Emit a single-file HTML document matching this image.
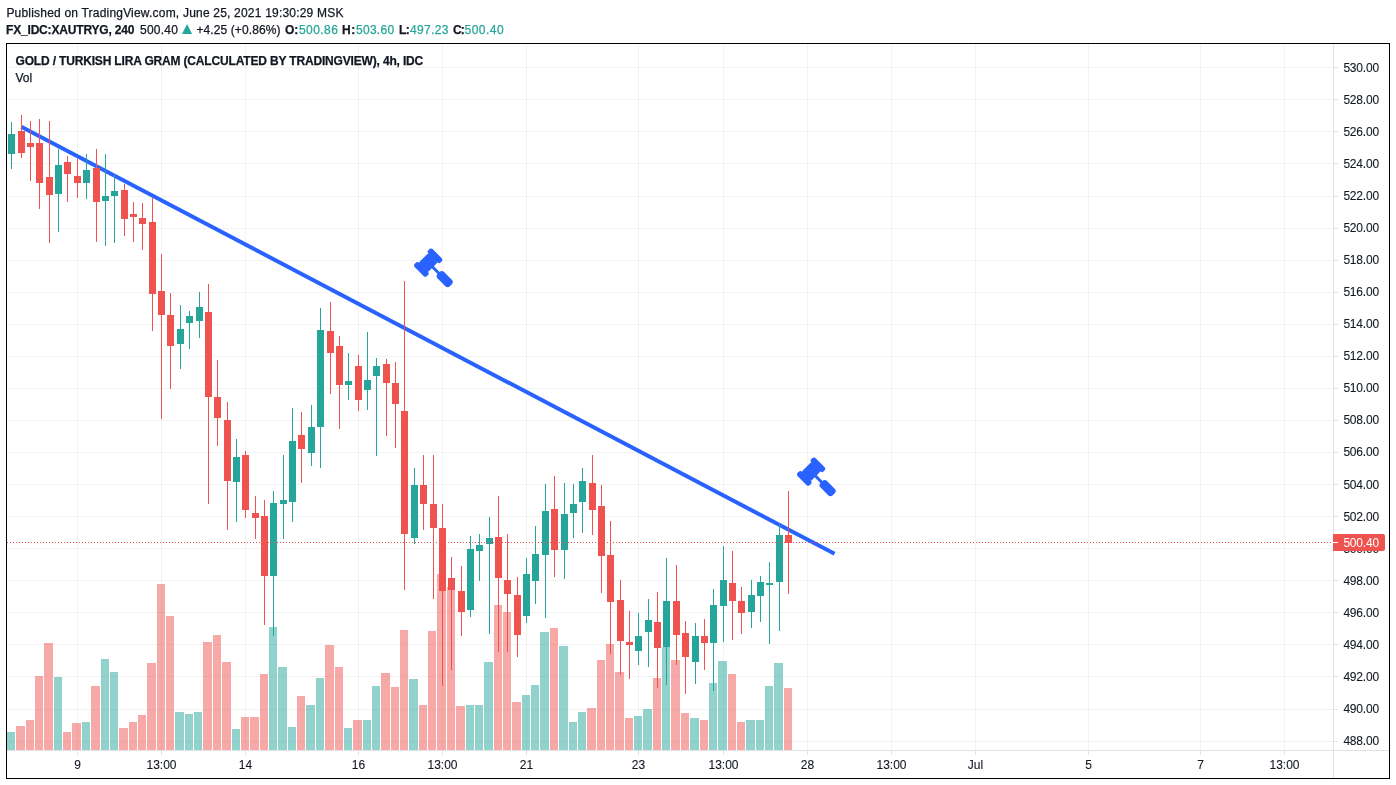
<!DOCTYPE html><html><head><meta charset="utf-8"><title>XAUTRYG chart</title><style>
html,body{margin:0;padding:0;background:#fff}body{width:1396px;height:785px;position:relative;overflow:hidden;font-family:"Liberation Sans",sans-serif;color:#131722}
.t{position:absolute;white-space:pre;font-size:12px;line-height:14px;-webkit-text-stroke:0.25px currentColor}
.b{font-weight:bold}.g{color:#26a69a}
#box{position:absolute;left:6px;top:43px;width:1384px;height:736px;box-sizing:border-box;border:1px solid #000}
.pl,.tl{-webkit-text-stroke:0.1px currentColor}.pl{position:absolute;left:1343.4px;font-size:12px;line-height:14px;white-space:pre;letter-spacing:-0.2px}
.tl{position:absolute;top:758px;width:60px;text-align:center;font-size:12px;line-height:14px;white-space:pre}
#cur{position:absolute;left:1333px;top:534px;width:52px;height:17px;background:#ef5350;border-radius:0 2px 2px 0;color:#fff;font-size:12px;line-height:17px}
#cur span{position:absolute;left:10.4px;top:1px;letter-spacing:-0.2px}
#cur i{position:absolute;left:0;top:8px;width:5px;height:1px;background:#fff}
</style></head><body>
<svg width="1396" height="785" viewBox="0 0 1396 785" style="position:absolute;left:0;top:0">
<g shape-rendering="crispEdges">
<rect x="77" y="44" width="1" height="706" fill="rgba(42,46,57,0.06)"/>
<rect x="161" y="44" width="1" height="706" fill="rgba(42,46,57,0.06)"/>
<rect x="245" y="44" width="1" height="706" fill="rgba(42,46,57,0.06)"/>
<rect x="358" y="44" width="1" height="706" fill="rgba(42,46,57,0.06)"/>
<rect x="442" y="44" width="1" height="706" fill="rgba(42,46,57,0.06)"/>
<rect x="526" y="44" width="1" height="706" fill="rgba(42,46,57,0.06)"/>
<rect x="638" y="44" width="1" height="706" fill="rgba(42,46,57,0.06)"/>
<rect x="723" y="44" width="1" height="706" fill="rgba(42,46,57,0.06)"/>
<rect x="807" y="44" width="1" height="706" fill="rgba(42,46,57,0.06)"/>
<rect x="891" y="44" width="1" height="706" fill="rgba(42,46,57,0.06)"/>
<rect x="975" y="44" width="1" height="706" fill="rgba(42,46,57,0.06)"/>
<rect x="1088" y="44" width="1" height="706" fill="rgba(42,46,57,0.06)"/>
<rect x="1200" y="44" width="1" height="706" fill="rgba(42,46,57,0.06)"/>
<rect x="1284" y="44" width="1" height="706" fill="rgba(42,46,57,0.06)"/>
<rect x="7" y="67" width="1326" height="1" fill="rgba(42,46,57,0.06)"/>
<rect x="7" y="99" width="1326" height="1" fill="rgba(42,46,57,0.06)"/>
<rect x="7" y="131" width="1326" height="1" fill="rgba(42,46,57,0.06)"/>
<rect x="7" y="163" width="1326" height="1" fill="rgba(42,46,57,0.06)"/>
<rect x="7" y="196" width="1326" height="1" fill="rgba(42,46,57,0.06)"/>
<rect x="7" y="228" width="1326" height="1" fill="rgba(42,46,57,0.06)"/>
<rect x="7" y="260" width="1326" height="1" fill="rgba(42,46,57,0.06)"/>
<rect x="7" y="292" width="1326" height="1" fill="rgba(42,46,57,0.06)"/>
<rect x="7" y="324" width="1326" height="1" fill="rgba(42,46,57,0.06)"/>
<rect x="7" y="356" width="1326" height="1" fill="rgba(42,46,57,0.06)"/>
<rect x="7" y="388" width="1326" height="1" fill="rgba(42,46,57,0.06)"/>
<rect x="7" y="420" width="1326" height="1" fill="rgba(42,46,57,0.06)"/>
<rect x="7" y="452" width="1326" height="1" fill="rgba(42,46,57,0.06)"/>
<rect x="7" y="484" width="1326" height="1" fill="rgba(42,46,57,0.06)"/>
<rect x="7" y="516" width="1326" height="1" fill="rgba(42,46,57,0.06)"/>
<rect x="7" y="548" width="1326" height="1" fill="rgba(42,46,57,0.06)"/>
<rect x="7" y="580" width="1326" height="1" fill="rgba(42,46,57,0.06)"/>
<rect x="7" y="612" width="1326" height="1" fill="rgba(42,46,57,0.06)"/>
<rect x="7" y="644" width="1326" height="1" fill="rgba(42,46,57,0.06)"/>
<rect x="7" y="676" width="1326" height="1" fill="rgba(42,46,57,0.06)"/>
<rect x="7" y="709" width="1326" height="1" fill="rgba(42,46,57,0.06)"/>
<rect x="7" y="741" width="1326" height="1" fill="rgba(42,46,57,0.06)"/>
<rect x="7" y="732" width="8" height="18" fill="rgba(38,166,154,0.5)"/>
<rect x="16" y="726" width="9" height="24" fill="rgba(239,83,80,0.5)"/>
<rect x="26" y="720" width="8" height="30" fill="rgba(239,83,80,0.5)"/>
<rect x="35" y="676" width="8" height="74" fill="rgba(239,83,80,0.5)"/>
<rect x="44" y="643" width="9" height="107" fill="rgba(239,83,80,0.5)"/>
<rect x="54" y="677" width="8" height="73" fill="rgba(38,166,154,0.5)"/>
<rect x="63" y="732" width="8" height="18" fill="rgba(239,83,80,0.5)"/>
<rect x="72" y="723" width="9" height="27" fill="rgba(239,83,80,0.5)"/>
<rect x="82" y="722" width="8" height="28" fill="rgba(38,166,154,0.5)"/>
<rect x="91" y="686" width="9" height="64" fill="rgba(239,83,80,0.5)"/>
<rect x="101" y="659" width="8" height="91" fill="rgba(38,166,154,0.5)"/>
<rect x="110" y="672" width="8" height="78" fill="rgba(38,166,154,0.5)"/>
<rect x="119" y="728" width="9" height="22" fill="rgba(239,83,80,0.5)"/>
<rect x="129" y="722" width="8" height="28" fill="rgba(239,83,80,0.5)"/>
<rect x="138" y="715" width="8" height="35" fill="rgba(239,83,80,0.5)"/>
<rect x="147" y="663" width="9" height="87" fill="rgba(239,83,80,0.5)"/>
<rect x="157" y="584" width="8" height="166" fill="rgba(239,83,80,0.5)"/>
<rect x="166" y="616" width="8" height="134" fill="rgba(239,83,80,0.5)"/>
<rect x="175" y="712" width="9" height="38" fill="rgba(38,166,154,0.5)"/>
<rect x="185" y="714" width="8" height="36" fill="rgba(38,166,154,0.5)"/>
<rect x="194" y="712" width="8" height="38" fill="rgba(38,166,154,0.5)"/>
<rect x="203" y="642" width="9" height="108" fill="rgba(239,83,80,0.5)"/>
<rect x="213" y="635" width="8" height="115" fill="rgba(239,83,80,0.5)"/>
<rect x="222" y="662" width="9" height="88" fill="rgba(239,83,80,0.5)"/>
<rect x="232" y="729" width="8" height="21" fill="rgba(38,166,154,0.5)"/>
<rect x="241" y="717" width="8" height="33" fill="rgba(239,83,80,0.5)"/>
<rect x="250" y="717" width="9" height="33" fill="rgba(239,83,80,0.5)"/>
<rect x="260" y="674" width="8" height="76" fill="rgba(239,83,80,0.5)"/>
<rect x="269" y="627" width="8" height="123" fill="rgba(38,166,154,0.5)"/>
<rect x="278" y="667" width="9" height="83" fill="rgba(38,166,154,0.5)"/>
<rect x="288" y="727" width="8" height="23" fill="rgba(38,166,154,0.5)"/>
<rect x="297" y="696" width="8" height="54" fill="rgba(239,83,80,0.5)"/>
<rect x="306" y="705" width="9" height="45" fill="rgba(38,166,154,0.5)"/>
<rect x="316" y="678" width="8" height="72" fill="rgba(38,166,154,0.5)"/>
<rect x="325" y="645" width="9" height="105" fill="rgba(239,83,80,0.5)"/>
<rect x="335" y="667" width="8" height="83" fill="rgba(239,83,80,0.5)"/>
<rect x="344" y="728" width="8" height="22" fill="rgba(38,166,154,0.5)"/>
<rect x="353" y="720" width="9" height="30" fill="rgba(239,83,80,0.5)"/>
<rect x="363" y="720" width="8" height="30" fill="rgba(38,166,154,0.5)"/>
<rect x="372" y="686" width="8" height="64" fill="rgba(38,166,154,0.5)"/>
<rect x="381" y="673" width="9" height="77" fill="rgba(239,83,80,0.5)"/>
<rect x="391" y="687" width="8" height="63" fill="rgba(239,83,80,0.5)"/>
<rect x="400" y="630" width="8" height="120" fill="rgba(239,83,80,0.5)"/>
<rect x="409" y="679" width="9" height="71" fill="rgba(38,166,154,0.5)"/>
<rect x="419" y="705" width="8" height="45" fill="rgba(239,83,80,0.5)"/>
<rect x="428" y="631" width="8" height="119" fill="rgba(239,83,80,0.5)"/>
<rect x="437" y="574" width="9" height="176" fill="rgba(239,83,80,0.5)"/>
<rect x="447" y="587" width="8" height="163" fill="rgba(239,83,80,0.5)"/>
<rect x="456" y="706" width="9" height="44" fill="rgba(239,83,80,0.5)"/>
<rect x="466" y="705" width="8" height="45" fill="rgba(38,166,154,0.5)"/>
<rect x="475" y="705" width="8" height="45" fill="rgba(38,166,154,0.5)"/>
<rect x="484" y="662" width="9" height="88" fill="rgba(38,166,154,0.5)"/>
<rect x="494" y="605" width="8" height="145" fill="rgba(239,83,80,0.5)"/>
<rect x="503" y="612" width="8" height="138" fill="rgba(239,83,80,0.5)"/>
<rect x="512" y="702" width="9" height="48" fill="rgba(239,83,80,0.5)"/>
<rect x="522" y="695" width="8" height="55" fill="rgba(38,166,154,0.5)"/>
<rect x="531" y="685" width="8" height="65" fill="rgba(38,166,154,0.5)"/>
<rect x="540" y="632" width="9" height="118" fill="rgba(38,166,154,0.5)"/>
<rect x="550" y="628" width="8" height="122" fill="rgba(239,83,80,0.5)"/>
<rect x="559" y="646" width="9" height="104" fill="rgba(38,166,154,0.5)"/>
<rect x="569" y="722" width="8" height="28" fill="rgba(38,166,154,0.5)"/>
<rect x="578" y="712" width="8" height="38" fill="rgba(38,166,154,0.5)"/>
<rect x="587" y="708" width="9" height="42" fill="rgba(239,83,80,0.5)"/>
<rect x="597" y="660" width="8" height="90" fill="rgba(239,83,80,0.5)"/>
<rect x="606" y="644" width="8" height="106" fill="rgba(239,83,80,0.5)"/>
<rect x="615" y="672" width="9" height="78" fill="rgba(239,83,80,0.5)"/>
<rect x="625" y="718" width="8" height="32" fill="rgba(239,83,80,0.5)"/>
<rect x="634" y="716" width="8" height="34" fill="rgba(38,166,154,0.5)"/>
<rect x="643" y="709" width="9" height="41" fill="rgba(38,166,154,0.5)"/>
<rect x="653" y="678" width="8" height="72" fill="rgba(239,83,80,0.5)"/>
<rect x="662" y="647" width="8" height="103" fill="rgba(38,166,154,0.5)"/>
<rect x="671" y="660" width="9" height="90" fill="rgba(239,83,80,0.5)"/>
<rect x="681" y="713" width="8" height="37" fill="rgba(239,83,80,0.5)"/>
<rect x="690" y="718" width="9" height="32" fill="rgba(38,166,154,0.5)"/>
<rect x="700" y="720" width="8" height="30" fill="rgba(239,83,80,0.5)"/>
<rect x="709" y="683" width="8" height="67" fill="rgba(38,166,154,0.5)"/>
<rect x="718" y="661" width="9" height="89" fill="rgba(38,166,154,0.5)"/>
<rect x="728" y="674" width="8" height="76" fill="rgba(239,83,80,0.5)"/>
<rect x="737" y="722" width="8" height="28" fill="rgba(239,83,80,0.5)"/>
<rect x="746" y="720" width="9" height="30" fill="rgba(38,166,154,0.5)"/>
<rect x="756" y="720" width="8" height="30" fill="rgba(38,166,154,0.5)"/>
<rect x="765" y="686" width="8" height="64" fill="rgba(38,166,154,0.5)"/>
<rect x="774" y="663" width="9" height="87" fill="rgba(38,166,154,0.5)"/>
<rect x="784" y="688" width="8" height="62" fill="rgba(239,83,80,0.5)"/>
</g>
<line x1="21.3" y1="126.8" x2="834.6" y2="553.85" stroke="#2962ff" stroke-width="4"/>
<g shape-rendering="crispEdges">
<rect x="11" y="122" width="1" height="47" fill="#26a69a"/>
<rect x="8" y="134" width="7" height="20" fill="#26a69a"/>
<rect x="21" y="115" width="1" height="43" fill="#ef5350"/>
<rect x="18" y="131" width="7" height="22" fill="#ef5350"/>
<rect x="30" y="121" width="1" height="60" fill="#ef5350"/>
<rect x="27" y="143" width="7" height="4" fill="#ef5350"/>
<rect x="39" y="119" width="1" height="90" fill="#ef5350"/>
<rect x="36" y="143" width="7" height="40" fill="#ef5350"/>
<rect x="49" y="121" width="1" height="122" fill="#ef5350"/>
<rect x="46" y="177" width="7" height="18" fill="#ef5350"/>
<rect x="58" y="149" width="1" height="83" fill="#26a69a"/>
<rect x="55" y="165" width="7" height="29" fill="#26a69a"/>
<rect x="67" y="156" width="1" height="46" fill="#ef5350"/>
<rect x="64" y="162" width="7" height="12" fill="#ef5350"/>
<rect x="77" y="159" width="1" height="39" fill="#ef5350"/>
<rect x="74" y="176" width="7" height="7" fill="#ef5350"/>
<rect x="86" y="154" width="1" height="45" fill="#26a69a"/>
<rect x="83" y="170" width="7" height="13" fill="#26a69a"/>
<rect x="96" y="149" width="1" height="93" fill="#ef5350"/>
<rect x="93" y="168" width="7" height="34" fill="#ef5350"/>
<rect x="105" y="154" width="1" height="92" fill="#26a69a"/>
<rect x="102" y="196" width="7" height="5" fill="#26a69a"/>
<rect x="114" y="174" width="1" height="69" fill="#26a69a"/>
<rect x="111" y="191" width="7" height="5" fill="#26a69a"/>
<rect x="124" y="184" width="1" height="52" fill="#ef5350"/>
<rect x="121" y="190" width="7" height="29" fill="#ef5350"/>
<rect x="133" y="202" width="1" height="40" fill="#ef5350"/>
<rect x="130" y="214" width="7" height="3" fill="#ef5350"/>
<rect x="142" y="203" width="1" height="47" fill="#ef5350"/>
<rect x="139" y="218" width="7" height="6" fill="#ef5350"/>
<rect x="152" y="197" width="1" height="134" fill="#ef5350"/>
<rect x="149" y="222" width="7" height="72" fill="#ef5350"/>
<rect x="161" y="254" width="1" height="165" fill="#ef5350"/>
<rect x="158" y="291" width="7" height="24" fill="#ef5350"/>
<rect x="170" y="293" width="1" height="96" fill="#ef5350"/>
<rect x="167" y="315" width="7" height="31" fill="#ef5350"/>
<rect x="180" y="305" width="1" height="64" fill="#26a69a"/>
<rect x="177" y="329" width="7" height="15" fill="#26a69a"/>
<rect x="189" y="311" width="1" height="38" fill="#26a69a"/>
<rect x="186" y="316" width="7" height="7" fill="#26a69a"/>
<rect x="199" y="292" width="1" height="46" fill="#26a69a"/>
<rect x="196" y="307" width="7" height="14" fill="#26a69a"/>
<rect x="208" y="284" width="1" height="220" fill="#ef5350"/>
<rect x="205" y="312" width="7" height="85" fill="#ef5350"/>
<rect x="217" y="360" width="1" height="86" fill="#ef5350"/>
<rect x="214" y="397" width="7" height="21" fill="#ef5350"/>
<rect x="227" y="402" width="1" height="128" fill="#ef5350"/>
<rect x="224" y="420" width="7" height="61" fill="#ef5350"/>
<rect x="236" y="439" width="1" height="83" fill="#26a69a"/>
<rect x="233" y="457" width="7" height="25" fill="#26a69a"/>
<rect x="245" y="451" width="1" height="67" fill="#ef5350"/>
<rect x="242" y="455" width="7" height="55" fill="#ef5350"/>
<rect x="255" y="496" width="1" height="43" fill="#ef5350"/>
<rect x="252" y="513" width="7" height="5" fill="#ef5350"/>
<rect x="264" y="500" width="1" height="125" fill="#ef5350"/>
<rect x="261" y="516" width="7" height="60" fill="#ef5350"/>
<rect x="273" y="491" width="1" height="145" fill="#26a69a"/>
<rect x="270" y="503" width="7" height="73" fill="#26a69a"/>
<rect x="283" y="455" width="1" height="84" fill="#26a69a"/>
<rect x="280" y="500" width="7" height="4" fill="#26a69a"/>
<rect x="292" y="408" width="1" height="114" fill="#26a69a"/>
<rect x="289" y="441" width="7" height="61" fill="#26a69a"/>
<rect x="301" y="412" width="1" height="71" fill="#ef5350"/>
<rect x="298" y="435" width="7" height="14" fill="#ef5350"/>
<rect x="311" y="405" width="1" height="61" fill="#26a69a"/>
<rect x="308" y="427" width="7" height="26" fill="#26a69a"/>
<rect x="320" y="308" width="1" height="160" fill="#26a69a"/>
<rect x="317" y="330" width="7" height="97" fill="#26a69a"/>
<rect x="330" y="302" width="1" height="92" fill="#ef5350"/>
<rect x="327" y="331" width="7" height="22" fill="#ef5350"/>
<rect x="339" y="336" width="1" height="93" fill="#ef5350"/>
<rect x="336" y="346" width="7" height="39" fill="#ef5350"/>
<rect x="348" y="353" width="1" height="47" fill="#26a69a"/>
<rect x="345" y="381" width="7" height="4" fill="#26a69a"/>
<rect x="358" y="355" width="1" height="56" fill="#ef5350"/>
<rect x="355" y="366" width="7" height="34" fill="#ef5350"/>
<rect x="367" y="332" width="1" height="78" fill="#26a69a"/>
<rect x="364" y="380" width="7" height="10" fill="#26a69a"/>
<rect x="376" y="358" width="1" height="98" fill="#26a69a"/>
<rect x="373" y="366" width="7" height="10" fill="#26a69a"/>
<rect x="386" y="359" width="1" height="77" fill="#ef5350"/>
<rect x="383" y="364" width="7" height="19" fill="#ef5350"/>
<rect x="395" y="362" width="1" height="86" fill="#ef5350"/>
<rect x="392" y="383" width="7" height="21" fill="#ef5350"/>
<rect x="404" y="281" width="1" height="309" fill="#ef5350"/>
<rect x="401" y="411" width="7" height="123" fill="#ef5350"/>
<rect x="414" y="468" width="1" height="76" fill="#26a69a"/>
<rect x="411" y="485" width="7" height="53" fill="#26a69a"/>
<rect x="423" y="455" width="1" height="75" fill="#ef5350"/>
<rect x="420" y="485" width="7" height="19" fill="#ef5350"/>
<rect x="433" y="455" width="1" height="144" fill="#ef5350"/>
<rect x="430" y="504" width="7" height="24" fill="#ef5350"/>
<rect x="442" y="504" width="1" height="182" fill="#ef5350"/>
<rect x="439" y="528" width="7" height="63" fill="#ef5350"/>
<rect x="451" y="557" width="1" height="113" fill="#ef5350"/>
<rect x="448" y="578" width="7" height="12" fill="#ef5350"/>
<rect x="461" y="566" width="1" height="70" fill="#ef5350"/>
<rect x="458" y="591" width="7" height="21" fill="#ef5350"/>
<rect x="470" y="536" width="1" height="81" fill="#26a69a"/>
<rect x="467" y="549" width="7" height="61" fill="#26a69a"/>
<rect x="479" y="534" width="1" height="47" fill="#26a69a"/>
<rect x="476" y="545" width="7" height="6" fill="#26a69a"/>
<rect x="489" y="517" width="1" height="117" fill="#26a69a"/>
<rect x="486" y="538" width="7" height="6" fill="#26a69a"/>
<rect x="498" y="496" width="1" height="156" fill="#ef5350"/>
<rect x="495" y="537" width="7" height="41" fill="#ef5350"/>
<rect x="507" y="534" width="1" height="118" fill="#ef5350"/>
<rect x="504" y="580" width="7" height="14" fill="#ef5350"/>
<rect x="517" y="577" width="1" height="80" fill="#ef5350"/>
<rect x="514" y="595" width="7" height="40" fill="#ef5350"/>
<rect x="526" y="558" width="1" height="65" fill="#26a69a"/>
<rect x="523" y="574" width="7" height="42" fill="#26a69a"/>
<rect x="535" y="526" width="1" height="78" fill="#26a69a"/>
<rect x="532" y="554" width="7" height="27" fill="#26a69a"/>
<rect x="545" y="484" width="1" height="134" fill="#26a69a"/>
<rect x="542" y="511" width="7" height="44" fill="#26a69a"/>
<rect x="554" y="476" width="1" height="101" fill="#ef5350"/>
<rect x="551" y="509" width="7" height="41" fill="#ef5350"/>
<rect x="564" y="483" width="1" height="96" fill="#26a69a"/>
<rect x="561" y="514" width="7" height="36" fill="#26a69a"/>
<rect x="573" y="484" width="1" height="54" fill="#26a69a"/>
<rect x="570" y="504" width="7" height="9" fill="#26a69a"/>
<rect x="582" y="468" width="1" height="65" fill="#26a69a"/>
<rect x="579" y="481" width="7" height="21" fill="#26a69a"/>
<rect x="592" y="455" width="1" height="80" fill="#ef5350"/>
<rect x="589" y="483" width="7" height="27" fill="#ef5350"/>
<rect x="601" y="485" width="1" height="108" fill="#ef5350"/>
<rect x="598" y="506" width="7" height="50" fill="#ef5350"/>
<rect x="610" y="521" width="1" height="133" fill="#ef5350"/>
<rect x="607" y="555" width="7" height="47" fill="#ef5350"/>
<rect x="620" y="580" width="1" height="95" fill="#ef5350"/>
<rect x="617" y="600" width="7" height="41" fill="#ef5350"/>
<rect x="629" y="611" width="1" height="68" fill="#ef5350"/>
<rect x="626" y="642" width="7" height="3" fill="#ef5350"/>
<rect x="638" y="613" width="1" height="52" fill="#26a69a"/>
<rect x="635" y="636" width="7" height="15" fill="#26a69a"/>
<rect x="648" y="599" width="1" height="68" fill="#26a69a"/>
<rect x="645" y="620" width="7" height="12" fill="#26a69a"/>
<rect x="657" y="592" width="1" height="96" fill="#ef5350"/>
<rect x="654" y="622" width="7" height="26" fill="#ef5350"/>
<rect x="666" y="558" width="1" height="127" fill="#26a69a"/>
<rect x="663" y="601" width="7" height="46" fill="#26a69a"/>
<rect x="676" y="565" width="1" height="100" fill="#ef5350"/>
<rect x="673" y="601" width="7" height="34" fill="#ef5350"/>
<rect x="685" y="621" width="1" height="73" fill="#ef5350"/>
<rect x="682" y="633" width="7" height="24" fill="#ef5350"/>
<rect x="695" y="623" width="1" height="61" fill="#26a69a"/>
<rect x="692" y="636" width="7" height="26" fill="#26a69a"/>
<rect x="704" y="619" width="1" height="51" fill="#ef5350"/>
<rect x="701" y="636" width="7" height="7" fill="#ef5350"/>
<rect x="713" y="589" width="1" height="102" fill="#26a69a"/>
<rect x="710" y="605" width="7" height="38" fill="#26a69a"/>
<rect x="723" y="546" width="1" height="96" fill="#26a69a"/>
<rect x="720" y="580" width="7" height="26" fill="#26a69a"/>
<rect x="732" y="551" width="1" height="89" fill="#ef5350"/>
<rect x="729" y="583" width="7" height="18" fill="#ef5350"/>
<rect x="741" y="587" width="1" height="47" fill="#ef5350"/>
<rect x="738" y="601" width="7" height="12" fill="#ef5350"/>
<rect x="751" y="580" width="1" height="48" fill="#26a69a"/>
<rect x="748" y="595" width="7" height="17" fill="#26a69a"/>
<rect x="760" y="576" width="1" height="46" fill="#26a69a"/>
<rect x="757" y="582" width="7" height="14" fill="#26a69a"/>
<rect x="769" y="562" width="1" height="82" fill="#26a69a"/>
<rect x="766" y="583" width="7" height="2" fill="#26a69a"/>
<rect x="779" y="524" width="1" height="107" fill="#26a69a"/>
<rect x="776" y="535" width="7" height="47" fill="#26a69a"/>
<rect x="788" y="491" width="1" height="103" fill="#ef5350"/>
<rect x="785" y="535" width="7" height="8" fill="#ef5350"/>
<path d="M7 542h1v1h-1zM10 542h1v1h-1zM13 542h1v1h-1zM16 542h1v1h-1zM19 542h1v1h-1zM22 542h1v1h-1zM25 542h1v1h-1zM28 542h1v1h-1zM31 542h1v1h-1zM34 542h1v1h-1zM37 542h1v1h-1zM40 542h1v1h-1zM43 542h1v1h-1zM46 542h1v1h-1zM49 542h1v1h-1zM52 542h1v1h-1zM55 542h1v1h-1zM58 542h1v1h-1zM61 542h1v1h-1zM64 542h1v1h-1zM67 542h1v1h-1zM70 542h1v1h-1zM73 542h1v1h-1zM76 542h1v1h-1zM79 542h1v1h-1zM82 542h1v1h-1zM85 542h1v1h-1zM88 542h1v1h-1zM91 542h1v1h-1zM94 542h1v1h-1zM97 542h1v1h-1zM100 542h1v1h-1zM103 542h1v1h-1zM106 542h1v1h-1zM109 542h1v1h-1zM112 542h1v1h-1zM115 542h1v1h-1zM118 542h1v1h-1zM121 542h1v1h-1zM124 542h1v1h-1zM127 542h1v1h-1zM130 542h1v1h-1zM133 542h1v1h-1zM136 542h1v1h-1zM139 542h1v1h-1zM142 542h1v1h-1zM145 542h1v1h-1zM148 542h1v1h-1zM151 542h1v1h-1zM154 542h1v1h-1zM157 542h1v1h-1zM160 542h1v1h-1zM163 542h1v1h-1zM166 542h1v1h-1zM169 542h1v1h-1zM172 542h1v1h-1zM175 542h1v1h-1zM178 542h1v1h-1zM181 542h1v1h-1zM184 542h1v1h-1zM187 542h1v1h-1zM190 542h1v1h-1zM193 542h1v1h-1zM196 542h1v1h-1zM199 542h1v1h-1zM202 542h1v1h-1zM205 542h1v1h-1zM208 542h1v1h-1zM211 542h1v1h-1zM214 542h1v1h-1zM217 542h1v1h-1zM220 542h1v1h-1zM223 542h1v1h-1zM226 542h1v1h-1zM229 542h1v1h-1zM232 542h1v1h-1zM235 542h1v1h-1zM238 542h1v1h-1zM241 542h1v1h-1zM244 542h1v1h-1zM247 542h1v1h-1zM250 542h1v1h-1zM253 542h1v1h-1zM256 542h1v1h-1zM259 542h1v1h-1zM262 542h1v1h-1zM265 542h1v1h-1zM268 542h1v1h-1zM271 542h1v1h-1zM274 542h1v1h-1zM277 542h1v1h-1zM280 542h1v1h-1zM283 542h1v1h-1zM286 542h1v1h-1zM289 542h1v1h-1zM292 542h1v1h-1zM295 542h1v1h-1zM298 542h1v1h-1zM301 542h1v1h-1zM304 542h1v1h-1zM307 542h1v1h-1zM310 542h1v1h-1zM313 542h1v1h-1zM316 542h1v1h-1zM319 542h1v1h-1zM322 542h1v1h-1zM325 542h1v1h-1zM328 542h1v1h-1zM331 542h1v1h-1zM334 542h1v1h-1zM337 542h1v1h-1zM340 542h1v1h-1zM343 542h1v1h-1zM346 542h1v1h-1zM349 542h1v1h-1zM352 542h1v1h-1zM355 542h1v1h-1zM358 542h1v1h-1zM361 542h1v1h-1zM364 542h1v1h-1zM367 542h1v1h-1zM370 542h1v1h-1zM373 542h1v1h-1zM376 542h1v1h-1zM379 542h1v1h-1zM382 542h1v1h-1zM385 542h1v1h-1zM388 542h1v1h-1zM391 542h1v1h-1zM394 542h1v1h-1zM397 542h1v1h-1zM400 542h1v1h-1zM403 542h1v1h-1zM406 542h1v1h-1zM409 542h1v1h-1zM412 542h1v1h-1zM415 542h1v1h-1zM418 542h1v1h-1zM421 542h1v1h-1zM424 542h1v1h-1zM427 542h1v1h-1zM430 542h1v1h-1zM433 542h1v1h-1zM436 542h1v1h-1zM439 542h1v1h-1zM442 542h1v1h-1zM445 542h1v1h-1zM448 542h1v1h-1zM451 542h1v1h-1zM454 542h1v1h-1zM457 542h1v1h-1zM460 542h1v1h-1zM463 542h1v1h-1zM466 542h1v1h-1zM469 542h1v1h-1zM472 542h1v1h-1zM475 542h1v1h-1zM478 542h1v1h-1zM481 542h1v1h-1zM484 542h1v1h-1zM487 542h1v1h-1zM490 542h1v1h-1zM493 542h1v1h-1zM496 542h1v1h-1zM499 542h1v1h-1zM502 542h1v1h-1zM505 542h1v1h-1zM508 542h1v1h-1zM511 542h1v1h-1zM514 542h1v1h-1zM517 542h1v1h-1zM520 542h1v1h-1zM523 542h1v1h-1zM526 542h1v1h-1zM529 542h1v1h-1zM532 542h1v1h-1zM535 542h1v1h-1zM538 542h1v1h-1zM541 542h1v1h-1zM544 542h1v1h-1zM547 542h1v1h-1zM550 542h1v1h-1zM553 542h1v1h-1zM556 542h1v1h-1zM559 542h1v1h-1zM562 542h1v1h-1zM565 542h1v1h-1zM568 542h1v1h-1zM571 542h1v1h-1zM574 542h1v1h-1zM577 542h1v1h-1zM580 542h1v1h-1zM583 542h1v1h-1zM586 542h1v1h-1zM589 542h1v1h-1zM592 542h1v1h-1zM595 542h1v1h-1zM598 542h1v1h-1zM601 542h1v1h-1zM604 542h1v1h-1zM607 542h1v1h-1zM610 542h1v1h-1zM613 542h1v1h-1zM616 542h1v1h-1zM619 542h1v1h-1zM622 542h1v1h-1zM625 542h1v1h-1zM628 542h1v1h-1zM631 542h1v1h-1zM634 542h1v1h-1zM637 542h1v1h-1zM640 542h1v1h-1zM643 542h1v1h-1zM646 542h1v1h-1zM649 542h1v1h-1zM652 542h1v1h-1zM655 542h1v1h-1zM658 542h1v1h-1zM661 542h1v1h-1zM664 542h1v1h-1zM667 542h1v1h-1zM670 542h1v1h-1zM673 542h1v1h-1zM676 542h1v1h-1zM679 542h1v1h-1zM682 542h1v1h-1zM685 542h1v1h-1zM688 542h1v1h-1zM691 542h1v1h-1zM694 542h1v1h-1zM697 542h1v1h-1zM700 542h1v1h-1zM703 542h1v1h-1zM706 542h1v1h-1zM709 542h1v1h-1zM712 542h1v1h-1zM715 542h1v1h-1zM718 542h1v1h-1zM721 542h1v1h-1zM724 542h1v1h-1zM727 542h1v1h-1zM730 542h1v1h-1zM733 542h1v1h-1zM736 542h1v1h-1zM739 542h1v1h-1zM742 542h1v1h-1zM745 542h1v1h-1zM748 542h1v1h-1zM751 542h1v1h-1zM754 542h1v1h-1zM757 542h1v1h-1zM760 542h1v1h-1zM763 542h1v1h-1zM766 542h1v1h-1zM769 542h1v1h-1zM772 542h1v1h-1zM775 542h1v1h-1zM778 542h1v1h-1zM781 542h1v1h-1zM784 542h1v1h-1zM787 542h1v1h-1zM790 542h1v1h-1zM793 542h1v1h-1zM796 542h1v1h-1zM799 542h1v1h-1zM802 542h1v1h-1zM805 542h1v1h-1zM808 542h1v1h-1zM811 542h1v1h-1zM814 542h1v1h-1zM817 542h1v1h-1zM820 542h1v1h-1zM823 542h1v1h-1zM826 542h1v1h-1zM829 542h1v1h-1zM832 542h1v1h-1zM835 542h1v1h-1zM838 542h1v1h-1zM841 542h1v1h-1zM844 542h1v1h-1zM847 542h1v1h-1zM850 542h1v1h-1zM853 542h1v1h-1zM856 542h1v1h-1zM859 542h1v1h-1zM862 542h1v1h-1zM865 542h1v1h-1zM868 542h1v1h-1zM871 542h1v1h-1zM874 542h1v1h-1zM877 542h1v1h-1zM880 542h1v1h-1zM883 542h1v1h-1zM886 542h1v1h-1zM889 542h1v1h-1zM892 542h1v1h-1zM895 542h1v1h-1zM898 542h1v1h-1zM901 542h1v1h-1zM904 542h1v1h-1zM907 542h1v1h-1zM910 542h1v1h-1zM913 542h1v1h-1zM916 542h1v1h-1zM919 542h1v1h-1zM922 542h1v1h-1zM925 542h1v1h-1zM928 542h1v1h-1zM931 542h1v1h-1zM934 542h1v1h-1zM937 542h1v1h-1zM940 542h1v1h-1zM943 542h1v1h-1zM946 542h1v1h-1zM949 542h1v1h-1zM952 542h1v1h-1zM955 542h1v1h-1zM958 542h1v1h-1zM961 542h1v1h-1zM964 542h1v1h-1zM967 542h1v1h-1zM970 542h1v1h-1zM973 542h1v1h-1zM976 542h1v1h-1zM979 542h1v1h-1zM982 542h1v1h-1zM985 542h1v1h-1zM988 542h1v1h-1zM991 542h1v1h-1zM994 542h1v1h-1zM997 542h1v1h-1zM1000 542h1v1h-1zM1003 542h1v1h-1zM1006 542h1v1h-1zM1009 542h1v1h-1zM1012 542h1v1h-1zM1015 542h1v1h-1zM1018 542h1v1h-1zM1021 542h1v1h-1zM1024 542h1v1h-1zM1027 542h1v1h-1zM1030 542h1v1h-1zM1033 542h1v1h-1zM1036 542h1v1h-1zM1039 542h1v1h-1zM1042 542h1v1h-1zM1045 542h1v1h-1zM1048 542h1v1h-1zM1051 542h1v1h-1zM1054 542h1v1h-1zM1057 542h1v1h-1zM1060 542h1v1h-1zM1063 542h1v1h-1zM1066 542h1v1h-1zM1069 542h1v1h-1zM1072 542h1v1h-1zM1075 542h1v1h-1zM1078 542h1v1h-1zM1081 542h1v1h-1zM1084 542h1v1h-1zM1087 542h1v1h-1zM1090 542h1v1h-1zM1093 542h1v1h-1zM1096 542h1v1h-1zM1099 542h1v1h-1zM1102 542h1v1h-1zM1105 542h1v1h-1zM1108 542h1v1h-1zM1111 542h1v1h-1zM1114 542h1v1h-1zM1117 542h1v1h-1zM1120 542h1v1h-1zM1123 542h1v1h-1zM1126 542h1v1h-1zM1129 542h1v1h-1zM1132 542h1v1h-1zM1135 542h1v1h-1zM1138 542h1v1h-1zM1141 542h1v1h-1zM1144 542h1v1h-1zM1147 542h1v1h-1zM1150 542h1v1h-1zM1153 542h1v1h-1zM1156 542h1v1h-1zM1159 542h1v1h-1zM1162 542h1v1h-1zM1165 542h1v1h-1zM1168 542h1v1h-1zM1171 542h1v1h-1zM1174 542h1v1h-1zM1177 542h1v1h-1zM1180 542h1v1h-1zM1183 542h1v1h-1zM1186 542h1v1h-1zM1189 542h1v1h-1zM1192 542h1v1h-1zM1195 542h1v1h-1zM1198 542h1v1h-1zM1201 542h1v1h-1zM1204 542h1v1h-1zM1207 542h1v1h-1zM1210 542h1v1h-1zM1213 542h1v1h-1zM1216 542h1v1h-1zM1219 542h1v1h-1zM1222 542h1v1h-1zM1225 542h1v1h-1zM1228 542h1v1h-1zM1231 542h1v1h-1zM1234 542h1v1h-1zM1237 542h1v1h-1zM1240 542h1v1h-1zM1243 542h1v1h-1zM1246 542h1v1h-1zM1249 542h1v1h-1zM1252 542h1v1h-1zM1255 542h1v1h-1zM1258 542h1v1h-1zM1261 542h1v1h-1zM1264 542h1v1h-1zM1267 542h1v1h-1zM1270 542h1v1h-1zM1273 542h1v1h-1zM1276 542h1v1h-1zM1279 542h1v1h-1zM1282 542h1v1h-1zM1285 542h1v1h-1zM1288 542h1v1h-1zM1291 542h1v1h-1zM1294 542h1v1h-1zM1297 542h1v1h-1zM1300 542h1v1h-1zM1303 542h1v1h-1zM1306 542h1v1h-1zM1309 542h1v1h-1zM1312 542h1v1h-1zM1315 542h1v1h-1zM1318 542h1v1h-1zM1321 542h1v1h-1zM1324 542h1v1h-1zM1327 542h1v1h-1zM1330 542h1v1h-1z" fill="#ef5350"/>
<rect x="1333" y="44" width="1" height="734" fill="#e1e2e5"/>
<rect x="7" y="750" width="1382" height="1" fill="#e1e2e5"/>
<rect x="77" y="751" width="1" height="4" fill="#e1e2e5"/>
<rect x="161" y="751" width="1" height="4" fill="#e1e2e5"/>
<rect x="245" y="751" width="1" height="4" fill="#e1e2e5"/>
<rect x="358" y="751" width="1" height="4" fill="#e1e2e5"/>
<rect x="442" y="751" width="1" height="4" fill="#e1e2e5"/>
<rect x="526" y="751" width="1" height="4" fill="#e1e2e5"/>
<rect x="638" y="751" width="1" height="4" fill="#e1e2e5"/>
<rect x="723" y="751" width="1" height="4" fill="#e1e2e5"/>
<rect x="807" y="751" width="1" height="4" fill="#e1e2e5"/>
<rect x="891" y="751" width="1" height="4" fill="#e1e2e5"/>
<rect x="975" y="751" width="1" height="4" fill="#e1e2e5"/>
<rect x="1088" y="751" width="1" height="4" fill="#e1e2e5"/>
<rect x="1200" y="751" width="1" height="4" fill="#e1e2e5"/>
<rect x="1284" y="751" width="1" height="4" fill="#e1e2e5"/>
<rect x="1334" y="67" width="4" height="1" fill="#e1e2e5"/>
<rect x="1334" y="99" width="4" height="1" fill="#e1e2e5"/>
<rect x="1334" y="131" width="4" height="1" fill="#e1e2e5"/>
<rect x="1334" y="163" width="4" height="1" fill="#e1e2e5"/>
<rect x="1334" y="196" width="4" height="1" fill="#e1e2e5"/>
<rect x="1334" y="228" width="4" height="1" fill="#e1e2e5"/>
<rect x="1334" y="260" width="4" height="1" fill="#e1e2e5"/>
<rect x="1334" y="292" width="4" height="1" fill="#e1e2e5"/>
<rect x="1334" y="324" width="4" height="1" fill="#e1e2e5"/>
<rect x="1334" y="356" width="4" height="1" fill="#e1e2e5"/>
<rect x="1334" y="388" width="4" height="1" fill="#e1e2e5"/>
<rect x="1334" y="420" width="4" height="1" fill="#e1e2e5"/>
<rect x="1334" y="452" width="4" height="1" fill="#e1e2e5"/>
<rect x="1334" y="484" width="4" height="1" fill="#e1e2e5"/>
<rect x="1334" y="516" width="4" height="1" fill="#e1e2e5"/>
<rect x="1334" y="548" width="4" height="1" fill="#e1e2e5"/>
<rect x="1334" y="580" width="4" height="1" fill="#e1e2e5"/>
<rect x="1334" y="612" width="4" height="1" fill="#e1e2e5"/>
<rect x="1334" y="644" width="4" height="1" fill="#e1e2e5"/>
<rect x="1334" y="676" width="4" height="1" fill="#e1e2e5"/>
<rect x="1334" y="709" width="4" height="1" fill="#e1e2e5"/>
<rect x="1334" y="741" width="4" height="1" fill="#e1e2e5"/>
</g>
<defs><path id="gv" d="M1771 0q0 -53 -37 -90l-107 -108q-39 -37 -91 -37q-53 0 -90 37l-363 364q-38 36 -38 90q0 53 43 96l-256 256l-126 -126q-14 -14 -34 -14t-34 14q2 -2 12.5 -12t12.5 -13t10 -11.5t10 -13.5t6 -13.5t5.5 -16.5t1.5 -18q0 -38 -28 -68q-3 -3 -16.5 -18t-19 -20.5t-18.5 -16.5t-22 -15.5t-22 -9t-26 -4.5q-40 0 -68 28l-408 408q-28 28 -28 68q0 13 4.5 26t9 22t15.5 22t16.5 18.5t20.5 19t18 16.5q30 28 68 28q10 0 18 -1.5t16.5 -5.5t13.5 -6t13.5 -10t11.5 -10t13 -12.5t12 -12.5q-14 14 -14 34t14 34l348 348q14 14 34 14t34 -14q-2 2 -12.5 12t-12.5 13t-10 11.5t-10 13.5t-6 13.5t-5.5 16.5t-1.5 18q0 38 28 68q3 3 16.5 18t19 20.5t18.5 16.5t22 15.5t22 9t26 4.5q40 0 68 -28l408 -408q28 -28 28 -68q0 -13 -4.5 -26t-9 -22t-15.5 -22t-16.5 -18.5t-20.5 -19t-18 -16.5q-30 -28 -68 -28q-10 0 -18 1.5t-16.5 5.5t-13.5 6t-13.5 10t-11.5 10t-13 12.5t-12 12.5q14 -14 14 -34t-14 -34l-126 -126l256 -256q43 43 96 43q52 0 91 -37l363 -363q37 -39 37 -91z"/></defs>
<g transform="translate(413.1,247.5) scale(0.02245,-0.02245) translate(0,-1536)"><use href="#gv" fill="#2962ff"/></g>
<g transform="translate(796.0,456.5) scale(0.02245,-0.02245) translate(0,-1536)"><use href="#gv" fill="#2962ff"/></g>
</svg>
<div id="box"></div>
<div class="t" id="h1" style="left:6.40px;top:6px;letter-spacing:0.200px">Published on TradingView.com, June 25, 2021 19:30:29 MSK</div>
<div class="t b" id="s0" style="left:6.00px;top:23px;letter-spacing:-0.178px">FX_IDC:XAUTRYG, 240</div>
<div class="t " id="s1" style="left:140.00px;top:23px;letter-spacing:0.240px">500.40</div>
<div class="t " id="s2" style="left:196.50px;top:23px;letter-spacing:0.092px">+4.25 (+0.86%)</div>
<div class="t b" id="s3" style="left:285.00px;top:23px;letter-spacing:-0.200px">O:</div>
<div class="t g" id="s4" style="left:299.00px;top:23px;letter-spacing:0.440px">500.86</div>
<div class="t b" id="s5" style="left:342.00px;top:23px;letter-spacing:0.600px">H:</div>
<div class="t g" id="s6" style="left:356.00px;top:23px;letter-spacing:0.280px">503.60</div>
<div class="t b" id="s7" style="left:399.00px;top:23px;letter-spacing:-0.600px">L:</div>
<div class="t g" id="s8" style="left:410.00px;top:23px;letter-spacing:0.360px">497.23</div>
<div class="t b" id="s9" style="left:453.00px;top:23px;letter-spacing:-0.900px">C:</div>
<div class="t g" id="s10" style="left:464.50px;top:23px;letter-spacing:0.480px">500.40</div>
<svg style="position:absolute;left:181px;top:24px" width="12" height="10" viewBox="0 0 12 10"><path d="M1 9.9L6.05 0.1L11.1 9.9z" fill="#26a69a"/></svg>
<div class="t b" id="ttl" style="left:15.50px;top:54px;letter-spacing:-0.167px">GOLD / TURKISH LIRA GRAM (CALCULATED BY TRADINGVIEW), 4h, IDC</div>
<div class="t" id="vol" style="left:15.50px;top:71px;letter-spacing:0.000px">Vol</div>
<div class="pl" style="top:61px">530.00</div>
<div class="pl" style="top:93px">528.00</div>
<div class="pl" style="top:125px">526.00</div>
<div class="pl" style="top:157px">524.00</div>
<div class="pl" style="top:189px">522.00</div>
<div class="pl" style="top:221px">520.00</div>
<div class="pl" style="top:253px">518.00</div>
<div class="pl" style="top:285px">516.00</div>
<div class="pl" style="top:317px">514.00</div>
<div class="pl" style="top:349px">512.00</div>
<div class="pl" style="top:381px">510.00</div>
<div class="pl" style="top:413px">508.00</div>
<div class="pl" style="top:445px">506.00</div>
<div class="pl" style="top:478px">504.00</div>
<div class="pl" style="top:510px">502.00</div>
<div class="pl" style="top:542px">500.00</div>
<div class="pl" style="top:574px">498.00</div>
<div class="pl" style="top:606px">496.00</div>
<div class="pl" style="top:638px">494.00</div>
<div class="pl" style="top:670px">492.00</div>
<div class="pl" style="top:702px">490.00</div>
<div class="pl" style="top:734px">488.00</div>
<div class="tl" style="left:47.5px">9</div>
<div class="tl" style="left:131.5px">13:00</div>
<div class="tl" style="left:215.5px">14</div>
<div class="tl" style="left:328.5px">16</div>
<div class="tl" style="left:412.5px">13:00</div>
<div class="tl" style="left:496.5px">21</div>
<div class="tl" style="left:608.5px">23</div>
<div class="tl" style="left:693.5px">13:00</div>
<div class="tl" style="left:777.5px">28</div>
<div class="tl" style="left:861.5px">13:00</div>
<div class="tl" style="left:945.5px">Jul</div>
<div class="tl" style="left:1058.5px">5</div>
<div class="tl" style="left:1170.5px">7</div>
<div class="tl" style="left:1254.5px">13:00</div>
<div id="cur"><i></i><span>500.40</span></div>
</body></html>
